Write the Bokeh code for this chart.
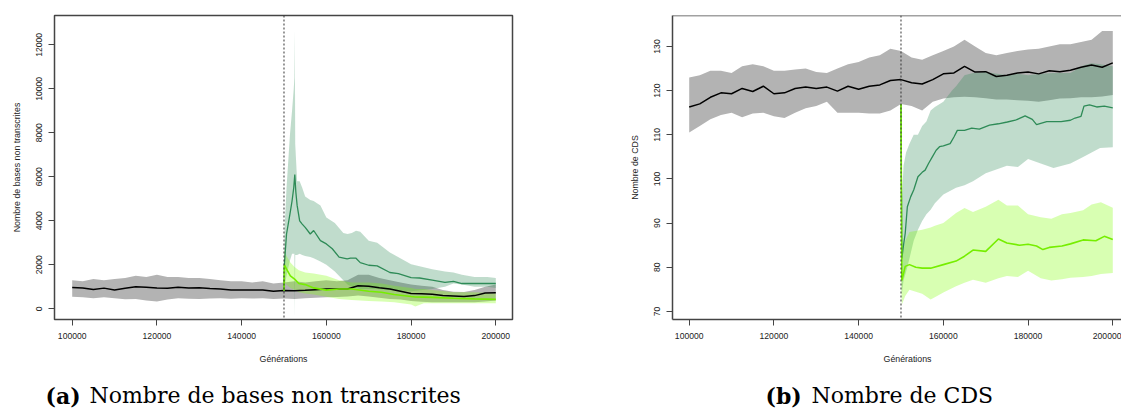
from bokeh.plotting import figure
from bokeh.layouts import row, column
from bokeh.models import FixedTicker, BasicTickFormatter, Span, Range1d
from bokeh.core.properties import value
from bokeh.embed import file_html
from bokeh.resources import INLINE

# ---------------- data: left panel (Nombre de bases non transcrites) ----------------
GEN_CTRL = list(range(100000, 200001, 2500))
L_CTRL_MEAN = [970, 950, 880, 940, 860, 930, 1000, 980, 950, 940, 980, 950, 960, 920, 900, 850, 860, 850, 850, 800,
               830, 820, 840, 870, 900, 900, 900, 1050, 1030, 960, 900, 800, 700, 680, 660, 600, 580, 560, 600, 720, 730]
L_CTRL_UP = [1300, 1250, 1350, 1300, 1350, 1400, 1500, 1450, 1550, 1450, 1450, 1400, 1400, 1350, 1300, 1250, 1250, 1200, 1250, 1150,
             1200, 1250, 1200, 1250, 1300, 1250, 1300, 1550, 1550, 1400, 1300, 1200, 1100, 1050, 1000, 850, 780, 760, 850, 1000, 1100]
L_CTRL_LO = [550, 520, 480, 520, 480, 430, 450, 380, 330, 420, 480, 460, 450, 470, 480, 460, 480, 470, 480, 450,
             470, 450, 480, 500, 520, 540, 560, 600, 560, 500, 450, 420, 350, 320, 300, 300, 300, 300, 300, 330, 380]

L_DG_GEN = [150000, 150100, 150600, 151400, 151900, 152300, 152550, 152800, 153100, 153700, 154300, 155000, 156200, 157000,
            158600, 160000, 161400, 163000, 164900, 165700, 167000, 168000, 170000, 172000, 175000, 177000, 180000, 182000,
            185000, 188000, 190000, 192000, 195000, 198000, 200000]
L_DG_MEAN = [820, 2050, 3400, 4300, 4900, 5500, 6100, 5300, 4700, 4000, 3850, 3700, 3400, 3560, 3100, 2950, 2730, 2350, 2270,
             2300, 2300, 2100, 1980, 1950, 1650, 1600, 1420, 1400, 1300, 1200, 1250, 1150, 1150, 1150, 1150]
L_DG_BAND_GEN = [150000, 150100, 150600, 151400, 151900, 152300, 152450, 152550, 152650, 153100, 153700, 154300, 155000,
                 156200, 157000, 158600, 160000, 162000, 164000, 165000, 166000, 167000, 168000, 170000, 172000, 175000,
                 180000, 185000, 188000, 190000, 192000, 195000, 198000, 200000]
L_DG_UP = [820, 3500, 5500, 7900, 9000, 10000, 10500, 12700, 7500, 5800, 5800, 5500, 5100, 4950, 4900, 4700, 4150, 3900, 3450,
           3400, 3450, 3550, 3500, 3090, 3000, 2560, 2030, 1800, 1700, 1650, 1550, 1450, 1450, 1400]
L_DG_LO = [820, 1000, 1500, 2200, 2500, 2500, 2500, -450, 2450, 2450, 2500, 2450, 2400, 2350, 2300, 2150, 2000, 1700, 1300,
           1100, 1000, 950, 900, 900, 900, 850, 800, 900, 1000, 1150, 1100, 1000, 1000, 950]

L_LG_GEN = [150000, 150100, 150600, 151500, 152500, 153500, 155000, 157000, 160000, 163000, 166000, 170000, 173000, 176000,
            180000, 181000, 183000, 185000, 190000, 195000, 200000]
L_LG_MEAN = [820, 2000, 1800, 1500, 1350, 1150, 1100, 950, 850, 900, 900, 800, 750, 650, 560, 540, 530, 520, 480, 450, 430]
L_LG_UP = [820, 2700, 2400, 2100, 1900, 1750, 1650, 1600, 1500, 1300, 1200, 1200, 1150, 1050, 950, 900, 900, 850, 750, 750, 700]
L_LG_LO = [820, 1200, 1100, 950, 850, 750, 700, 650, 550, 450, 400, 350, 330, 300, 200, 100, 250, 250, 250, 250, 250]

# ---------------- data: right panel (Nombre de CDS) ----------------
R_CTRL_MEAN = [116.3, 117.0, 118.5, 119.5, 119.3, 120.5, 119.8, 121.0, 119.3, 119.5, 120.5, 120.8, 120.5, 120.8, 119.9,
               121.0, 120.3, 121.0, 121.3, 122.3, 122.5, 121.8, 121.5, 122.5, 123.8, 124.0, 125.5, 124.2, 124.3, 123.2,
               123.5, 124.0, 124.2, 123.8, 124.5, 124.3, 124.6, 125.3, 125.8, 125.3, 126.3]
R_CTRL_UP = [123, 123.5, 124.5, 124.5, 124, 125.5, 126, 125.5, 124.5, 124.5, 124.8, 125, 124.2, 124, 125, 126, 126.5, 127.5,
             128, 129.5, 129, 127.5, 127, 128, 129, 130, 131.5, 130, 128.5, 128, 128.5, 129, 129.3, 129.5, 130, 130.5,
             130.5, 131, 131.5, 133.5, 133.5]
R_CTRL_LO = [110.5, 112, 113.5, 114.5, 115, 114, 114.8, 115, 114.2, 113.8, 115, 116, 116.5, 117.5, 115, 115, 115, 114.8,
             114.8, 115.5, 117, 116.5, 115.5, 117.5, 118.2, 118.5, 118.6, 118.5, 118.3, 118, 118, 117.8, 117.7, 117.5,
             117.8, 118.2, 118.3, 118.5, 118.5, 118.7, 119]

R_DG_GEN = [150000, 150200, 150600, 151000, 151500, 152300, 153000, 154000, 155000, 155700, 156500, 157400, 158300, 159100,
            160000, 161600, 162500, 163300, 165000, 166700, 168500, 170900, 173000, 175100, 177000, 179300, 181000, 182000,
            184400, 186000, 187800, 190000, 191100, 192500, 193200, 194500, 196200, 198000, 200000]
R_DG_MEAN = [117, 82, 85, 87.7, 93.7, 96, 97.5, 100.5, 101.5, 102, 103.5, 105, 106.5, 107.3, 107.5, 108, 109.5, 111, 111,
             111.5, 111.3, 112.2, 112.5, 112.9, 113.3, 114.3, 113.5, 112.3, 113, 113, 113, 113.3, 113.8, 114.2, 116.5,
             116.8, 116.3, 116.5, 116.1]
R_DG_BAND_GEN = [150000, 150200, 150600, 151200, 152000, 153000, 154000, 155000, 156000, 157000, 158000, 160000, 162000,
                 163000, 165000, 167000, 170000, 175000, 177600, 180000, 183000, 186000, 190000, 193000, 195000, 197000,
                 200000]
R_DG_UP = [117, 95, 103, 106, 108, 110, 110, 112, 113, 115.5, 116.3, 117.5, 120, 121, 123.5, 124, 124.2, 123.5, 123.8,
           123.5, 123.8, 124, 124, 125.7, 126.2, 126, 125.5]
R_DG_LO = [117, 74, 77, 79, 82, 86, 88.5, 90.5, 92, 93, 94.5, 96.5, 97.5, 98, 98.6, 99.5, 101.3, 103, 102.7, 104.5, 103.5,
           102.5, 103.5, 105, 106, 107, 107.2]

R_LG_GEN = [150000, 150200, 151000, 152000, 153500, 155000, 157000, 160000, 163000, 165000, 167000, 170000, 173000, 175000,
            178000, 180000, 182000, 183500, 185000, 188000, 190000, 193000, 196000, 198000, 200000]
R_LG_MEAN = [117, 77, 80.2, 80.6, 80, 79.8, 79.8, 80.6, 81.4, 82.5, 83.9, 83.6, 86.4, 85.5, 85, 85.2, 84.8, 84, 84.5, 84.8,
             85.3, 86.2, 86, 87, 86.3]
R_LG_BAND_GEN = [150000, 150200, 151000, 152000, 155000, 157000, 158000, 160000, 163000, 165000, 167000, 170000, 173000,
                 175000, 177600, 180000, 183000, 185500, 188000, 190000, 193000, 195000, 197200, 200000]
R_LG_UP = [77, 82, 86, 88, 88.5, 89, 89.4, 90, 92.3, 93.4, 92.5, 93.7, 95.3, 94, 94, 92, 91.3, 91, 92, 92.3, 92.9, 94.2,
           94.7, 93.5]
R_LG_LO = [77, 71.5, 73.5, 74.9, 74, 72.7, 73.2, 74.3, 75.7, 76.5, 77.2, 76.5, 77.5, 78, 77.8, 79.2, 77.5, 77, 77.3, 77.6,
           77.8, 78, 78.5, 78.7]

X_TICKS = [100000, 120000, 140000, 160000, 180000, 200000]
L_Y_TICKS = [0, 2000, 4000, 6000, 8000, 10000, 12000]
R_Y_TICKS = [70, 80, 90, 100, 110, 120, 130]
SWITCH_GEN = 150000

X_LABEL = "Générations"
CAP_TAGS = ["(a)", "(b)"]
CAP_TEXTS = ["Nombre de bases non transcrites", "Nombre de CDS"]

# ---------------- styles ----------------
GRAY_BAND = "#B3B3B3"
DARK = "#2E8B57"
LIGHT_BAND = "#7FFF00"
LIGHT_LINE = "#76EE00"
FRAME = "#444444"
SANS = "Liberation Sans"
SERIF = "DejaVu Serif"

FIG_H = 345          # height of the two chart figures
CAP_H = 409 - FIG_H  # strip below them holding x labels and captions


def style_axes(p, yticks):
    p.xaxis.ticker = FixedTicker(ticks=X_TICKS)
    p.yaxis.ticker = FixedTicker(ticks=yticks)
    for ax in (p.xaxis[0], p.yaxis[0]):
        ax.formatter = BasicTickFormatter(use_scientific=False)
        ax.major_tick_out = 6
        ax.major_tick_in = 0
        ax.minor_tick_out = 0
        ax.minor_tick_in = 0
        ax.major_tick_line_color = FRAME
        ax.major_label_text_font = SANS
        ax.major_label_text_font_size = "8.6px"
        ax.major_label_text_color = "#222222"
        ax.axis_label_text_font = SANS
        ax.axis_label_text_font_size = "8.8px"
        ax.axis_label_text_font_style = "normal"
        ax.axis_label_text_color = "#222222"
    p.yaxis.major_label_orientation = "vertical"
    p.xaxis.major_label_standoff = 7
    p.yaxis.major_label_standoff = 6
    p.yaxis.axis_label_standoff = 12
    p.xgrid.visible = False
    p.ygrid.visible = False


def draw(p, ctrl, dg, lg):
    (cm, cu, cl) = ctrl
    (dgg, dgm, dbg, dgu, dgl) = dg
    (lgg, lgm, lbg, lgu, lgl) = lg
    p.varea(x=GEN_CTRL, y1=cl, y2=cu, fill_color=GRAY_BAND, fill_alpha=1.0)
    p.varea(x=dbg, y1=dgl, y2=dgu, fill_color=DARK, fill_alpha=0.3)
    p.varea(x=lbg, y1=lgl, y2=lgu, fill_color=LIGHT_BAND, fill_alpha=0.3)
    p.line(x=GEN_CTRL, y=cm, line_color="black", line_width=1.5)
    p.line(x=dgg, y=dgm, line_color=DARK, line_width=1.3)
    p.line(x=lgg, y=lgm, line_color=LIGHT_LINE, line_width=1.6)
    p.add_layout(Span(location=SWITCH_GEN, dimension="height", line_color="#333333",
                      line_width=1, line_dash="2 2"))


# ---------------- left figure ----------------
p1 = figure(width=560, height=FIG_H, output_backend="svg", toolbar_location=None,
            x_range=Range1d(95822, 203943), y_range=Range1d(-486, 13332),
            min_border_left=54, min_border_right=48, min_border_top=15, min_border_bottom=26)
p1.outline_line_color = FRAME
p1.outline_line_width = 1.5
p1.xaxis.axis_line_color = None
p1.yaxis.axis_line_color = None
style_axes(p1, L_Y_TICKS)
p1.yaxis.axis_label = "Nombre de bases non transcrites"
draw(p1, (L_CTRL_MEAN, L_CTRL_UP, L_CTRL_LO),
     (L_DG_GEN, L_DG_MEAN, L_DG_BAND_GEN, L_DG_UP, L_DG_LO),
     (L_LG_GEN, L_LG_MEAN, L_LG_GEN, L_LG_UP, L_LG_LO))

# ---------------- right figure ----------------
p2 = figure(width=561, height=FIG_H, output_backend="svg", toolbar_location=None,
            x_range=Range1d(96058, 202058), y_range=Range1d(68.17, 137.02),
            min_border_left=112, min_border_right=0, min_border_top=15, min_border_bottom=26)
p2.outline_line_color = None
p2.xaxis.axis_line_color = FRAME
p2.yaxis.axis_line_color = FRAME
p2.xaxis.axis_line_width = 1.5
p2.yaxis.axis_line_width = 1.5
style_axes(p2, R_Y_TICKS)
p2.yaxis.axis_label = "Nombre de CDS"
p2.add_layout(Span(location=137.02, dimension="width", line_color=FRAME, line_width=1.5))
draw(p2, (R_CTRL_MEAN, R_CTRL_UP, R_CTRL_LO),
     (R_DG_GEN, R_DG_MEAN, R_DG_BAND_GEN, R_DG_UP, R_DG_LO),
     (R_LG_GEN, R_LG_MEAN, R_LG_BAND_GEN, R_LG_UP, R_LG_LO))

# ---------------- strip with x labels and sub-captions (pixel-space figure) ----------------
pc = figure(width=1121, height=CAP_H, output_backend="svg", toolbar_location=None,
            x_range=Range1d(0, 1121), y_range=Range1d(CAP_H, 0),
            min_border=0, min_border_left=0, min_border_right=0, min_border_top=0, min_border_bottom=0,
            x_axis_location=None, y_axis_location=None)
pc.outline_line_color = None
pc.xgrid.visible = False
pc.ygrid.visible = False
xlab_y = 358.5 - FIG_H
cap_y = 395 - FIG_H
pc.text(x=[283, 907], y=[xlab_y, xlab_y], text=[X_LABEL, X_LABEL], text_font=value(SANS),
        text_font_size=value("8.8px"), text_color="#222222", text_align="center", text_baseline="middle")
pc.text(x=[45, 765], y=[cap_y, cap_y], text=CAP_TAGS, text_font=value(SERIF),
        text_font_size=value("22px"), text_font_style="bold", text_color="black",
        text_align="left", text_baseline="alphabetic")
pc.text(x=[89, 811], y=[cap_y, cap_y], text=CAP_TEXTS, text_font=value(SERIF),
        text_font_size=value("22px"), text_color="black",
        text_align="left", text_baseline="alphabetic")

layout = column(row(p1, p2, spacing=0), pc, spacing=0)
open("out.html", "w").write(file_html(layout, INLINE))
